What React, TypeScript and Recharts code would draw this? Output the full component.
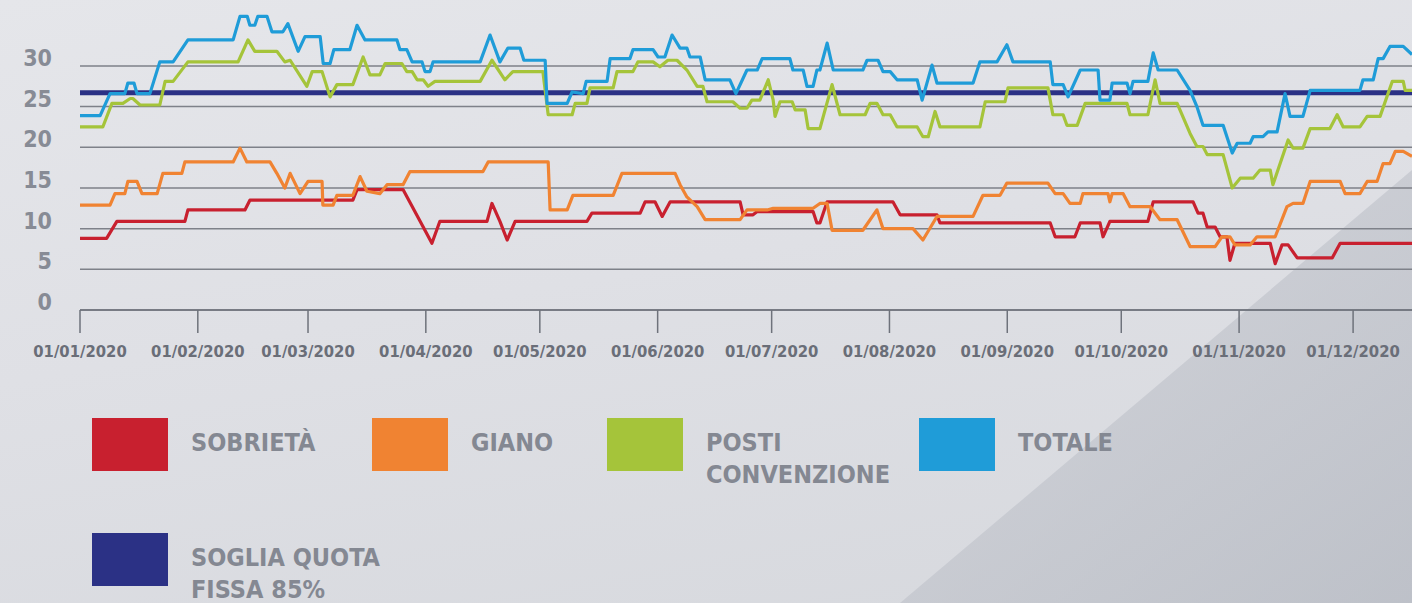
import { LineChart, Line, XAxis, YAxis, CartesianGrid } from "recharts";

// giorno dell'anno (0 = 01/01/2020) e valore
const SOBRIETA: [number, number][] = [
  [0, 8.8], [7, 8.8], [9.7, 10.9], [27.6, 10.9], [28.4, 12.3], [43.4, 12.3], [44.7, 13.5], [71.8, 13.5],
  [72.9, 14.8], [85, 14.8], [89.5, 10.9], [92.6, 8.2], [94.7, 10.9], [107.1, 10.9], [108.4, 13.1], [110.5, 10.9],
  [112.4, 8.6], [114.5, 10.9], [133.4, 10.9], [134.7, 11.9], [147.4, 11.9], [148.7, 13.3], [151.3, 13.3],
  [153.2, 11.5], [155.3, 13.3], [173.7, 13.3], [174.5, 11.7], [177.1, 11.7], [178.2, 12.1], [192.9, 12.1],
  [193.9, 10.7], [194.7, 10.7], [196.6, 13.3], [213.9, 13.3], [215.8, 11.7], [225.5, 11.7], [226.3, 10.7],
  [255.3, 10.7], [256.6, 9], [261.8, 9], [263.2, 10.7], [268.4, 10.7], [269.2, 9], [271, 10.9], [281, 10.9],
  [282.4, 13.3], [292.9, 13.3], [294.2, 11.9], [295.5, 11.9], [296.6, 10.2], [298.7, 10.2], [300, 9], [301.8, 9],
  [302.6, 6.1], [303.9, 8.2], [313.2, 8.2], [314.5, 5.7], [316.3, 8], [317.9, 8], [320.3, 6.4], [329.5, 6.4],
  [331.6, 8.2], [350.5, 8.2],
];

const GIANO: [number, number][] = [
  [0, 12.9], [7.9, 12.9], [9.2, 14.3], [11.8, 14.3], [12.6, 15.8], [15, 15.8], [16.3, 14.3], [20.3, 14.3],
  [21.8, 16.8], [26.8, 16.8], [27.6, 18.2], [40.3, 18.2], [42.1, 19.9], [43.9, 18.2], [50, 18.2], [51.8, 16.8],
  [53.9, 15], [55.3, 16.8], [57.9, 14.3], [60, 15.8], [63.7, 15.8], [63.9, 12.9], [66.6, 12.9], [67.6, 14.1],
  [71.8, 14.1], [73.7, 16.4], [75.5, 14.6], [78.9, 14.3], [80.8, 15.4], [85, 15.4], [86.8, 17], [106, 17],
  [107.4, 18.2], [123.2, 18.2], [123.7, 12.3], [128.2, 12.3], [129.7, 14.1], [140.3, 14.1], [142.6, 16.8],
  [156.6, 16.8], [157.9, 15.4], [159.7, 13.9], [162.4, 12.7], [164.5, 11.1], [173.7, 11.1], [175.5, 12.3],
  [180.8, 12.3], [182.4, 12.5], [192.9, 12.5], [194.7, 13.1], [196.6, 13.1], [197.9, 9.8], [206, 9.8],
  [209.7, 12.3], [211.3, 10], [219.2, 10], [221.8, 8.6], [225.5, 11.5], [235, 11.5], [237.6, 14.1], [242.1, 14.1],
  [243.9, 15.6], [254.7, 15.6], [256.6, 14.3], [258.7, 14.3], [260.5, 13.1], [263.2, 13.1], [263.9, 14.3],
  [270.5, 14.3], [271, 13.3], [271.6, 14.3], [274.5, 14.3], [276.3, 12.7], [281.6, 12.7], [284.2, 11.1],
  [288.7, 11.1], [292.1, 7.8], [298.7, 7.8], [300.5, 9], [302.6, 9], [303.9, 8], [307.9, 8], [309.7, 9],
  [314.5, 9], [317.6, 12.7], [319.2, 13.1], [321.8, 13.1], [323.7, 15.8], [331.6, 15.8], [332.9, 14.3],
  [336.8, 14.3], [338.7, 15.8], [341.3, 15.8], [342.9, 18], [344.7, 18], [346.1, 19.5], [348.2, 19.5],
  [350.5, 18.9],
];

const POSTI_CONVENZIONE: [number, number][] = [
  [0, 22.5], [6, 22.5], [8.4, 25.4], [11.3, 25.4], [13.2, 26], [13.9, 26], [15.8, 25.2], [21, 25.2],
  [22.4, 28.1], [24.5, 28.1], [28.4, 30.5], [41.6, 30.5], [44.2, 33.2], [46, 31.8], [51.8, 31.8], [53.9, 30.5],
  [55.3, 30.7], [59.7, 27.5], [61.1, 29.3], [63.7, 29.3], [65.8, 26.2], [67.6, 27.7], [71.8, 27.7], [74.5, 31.1],
  [76.3, 28.9], [78.9, 28.9], [80.3, 30.3], [84.7, 30.3], [86, 29.3], [87.4, 29.3], [88.7, 28.3], [90.3, 28.3],
  [91.6, 27.5], [93.4, 28.1], [105.3, 28.1], [108.4, 30.7], [111.8, 28.3], [113.9, 29.3], [121.8, 29.3],
  [123.2, 24], [129.5, 24], [130.3, 25.4], [133.4, 25.4], [134.2, 27.3], [140.3, 27.3], [141.3, 29.3],
  [145.5, 29.3], [146.8, 30.5], [150.8, 30.5], [152.6, 29.9], [154.7, 30.7], [157.1, 30.7], [159.7, 29.5],
  [162.4, 27.5], [163.9, 27.5], [165, 25.6], [171.8, 25.6], [173.7, 24.8], [175.5, 24.8], [176.8, 25.8],
  [178.9, 25.8], [181.1, 28.3], [182.4, 25.8], [182.9, 23.8], [184.2, 25.6], [187.4, 25.6], [188.2, 24.6],
  [190.8, 24.6], [191.6, 22.3], [194.7, 22.3], [197.9, 27.7], [200, 24], [206.6, 24], [207.9, 25.4],
  [209.7, 25.4], [211.3, 24], [213.2, 24], [215, 22.5], [220.3, 22.5], [221.8, 21.3], [223.2, 21.3],
  [225, 24.4], [226.3, 22.5], [236.8, 22.5], [238.2, 25.6], [243.4, 25.6], [244.2, 27.3], [254.7, 27.3],
  [256, 24], [258.7, 24], [259.7, 22.7], [262.4, 22.7], [264.5, 25.4], [275.5, 25.4], [276.3, 24], [281, 24],
  [282.9, 28.3], [284.2, 25.4], [288.7, 25.4], [292.1, 21.7], [293.9, 20.1], [295.5, 20.1], [296.6, 19.1],
  [300.8, 19.1], [303.2, 15], [305.3, 16.2], [308.7, 16.2], [310.5, 17.2], [313.2, 17.2], [313.9, 15.4],
  [317.9, 20.9], [319.2, 19.9], [321.8, 19.9], [323.7, 22.3], [328.9, 22.3], [330.8, 24], [332.4, 22.5],
  [336.8, 22.5], [338.7, 23.8], [342.1, 23.8], [345.3, 28.1], [348.2, 28.1], [348.7, 27], [350.5, 27],
];

const TOTALE: [number, number][] = [
  [0, 23.9], [5.3, 23.9], [7.9, 26.6], [11.8, 26.6], [12.6, 27.9], [14.2, 27.9], [15, 26.6], [18.4, 26.6],
  [21, 30.5], [24.5, 30.5], [28.4, 33.2], [40.3, 33.2], [42.1, 36.1], [44, 36.1], [44.7, 35], [46, 35],
  [46.8, 36.1], [49.2, 36.1], [50.5, 34.2], [53.4, 34.2], [54.7, 35.2], [57.4, 31.8], [59.2, 33.6], [63.2, 33.6],
  [64, 30.3], [65.8, 30.3], [66.8, 32], [71, 32], [72.9, 35], [75, 33.2], [83.4, 33.2], [84.2, 32], [86, 32],
  [87.4, 30.5], [90, 30.5], [90.8, 29.3], [92.1, 29.3], [92.9, 30.5], [105.3, 30.5], [107.9, 33.8],
  [110.5, 30.5], [112.6, 32.2], [115.8, 32.2], [116.8, 30.7], [122.4, 30.7], [122.9, 25.4], [128.2, 25.4],
  [129.5, 26.8], [132.4, 26.6], [133.2, 28.1], [138.7, 28.1], [139.5, 30.9], [144.7, 30.9], [145.5, 32],
  [150.8, 32], [152.1, 31.1], [153.9, 31.1], [155.8, 33.8], [157.9, 32.2], [159.7, 32.2], [160.5, 31.1],
  [163.2, 31.1], [164.5, 28.3], [171, 28.3], [172.6, 26.6], [175.5, 29.5], [178.2, 29.5], [179.5, 30.9],
  [186.8, 30.9], [187.6, 29.5], [190.3, 29.5], [191.3, 27.5], [192.9, 27.5], [193.9, 29.5], [194.7, 29.5],
  [196.6, 32.8], [198.2, 29.5], [206, 29.5], [207.1, 30.7], [210, 30.7], [211.3, 29.3], [213.2, 29.3],
  [215, 28.3], [220.3, 28.3], [221.6, 25.8], [224.2, 30.1], [225.5, 27.9], [235, 27.9], [236.8, 30.5],
  [241.3, 30.5], [243.9, 32.6], [245.5, 30.5], [255.3, 30.5], [256, 27.7], [258.7, 27.7], [260, 26.2],
  [263.2, 29.5], [267.9, 29.5], [268.4, 25.8], [271, 25.8], [271.6, 27.9], [275.5, 27.9], [276.3, 26.6],
  [277.1, 28.1], [281, 28.1], [282.4, 31.6], [283.7, 29.5], [288.7, 29.5], [292.1, 27], [293.9, 25],
  [295.5, 22.7], [300.8, 22.7], [303.2, 19.3], [304.5, 20.5], [307.9, 20.5], [308.7, 21.3], [311.3, 21.3],
  [312.6, 21.9], [315, 21.9], [317.1, 26.6], [318.4, 23.8], [321.8, 23.8], [323.7, 27], [336.8, 27],
  [337.6, 28.3], [340.3, 28.3], [341.6, 30.9], [342.9, 30.9], [344.7, 32.4], [348.2, 32.4], [350.5, 31.4],
];

const SOGLIA: [number, number][] = [[0, 26.7], [350.5, 26.7]];

const MESI_GIORNI = [0, 31, 60, 91, 121, 152, 182, 213, 244, 274, 305, 335];
const MESI_ETICHETTE = [
  "01/01/2020", "01/02/2020", "01/03/2020", "01/04/2020", "01/05/2020", "01/06/2020",
  "01/07/2020", "01/08/2020", "01/09/2020", "01/10/2020", "01/11/2020", "01/12/2020",
];
const Y_TICKS = [0, 5, 10, 15, 20, 25, 30];

const FONT = "'DejaVu Sans Condensed', 'DejaVu Sans', sans-serif";

const toPoints = (arr: [number, number][]) => arr.map(([d, v]) => ({ d, v }));

const serie = [
  { nome: "SOGLIA QUOTA FISSA 85%", dati: SOGLIA, colore: "#2b3185", spessore: 5 },
  { nome: "SOBRIETÀ", dati: SOBRIETA, colore: "#c8202f", spessore: 3.2 },
  { nome: "GIANO", dati: GIANO, colore: "#f08332", spessore: 3.2 },
  { nome: "POSTI CONVENZIONE", dati: POSTI_CONVENZIONE, colore: "#a5c43a", spessore: 3.2 },
  { nome: "TOTALE", dati: TOTALE, colore: "#1f9cd8", spessore: 3.2 },
];

const legenda = [
  { righe: ["SOBRIETÀ"], colore: "#c8202f", left: 92, top: 418 },
  { righe: ["GIANO"], colore: "#f08332", left: 372, top: 418 },
  { righe: ["POSTI", "CONVENZIONE"], colore: "#a5c43a", left: 607, top: 418 },
  { righe: ["TOTALE"], colore: "#1f9cd8", left: 919, top: 418 },
  { righe: ["SOGLIA QUOTA", "FISSA 85%"], colore: "#2b3185", left: 92, top: 533 },
];

const YTick = ({ x, y, payload }: any) => (
  <text x={x} y={y} textAnchor="end" fill="#878b95" fontFamily={FONT} fontWeight="bold" fontSize={23}>
    {payload.value}
  </text>
);

const XTick = ({ x, y, payload }: any) => {
  const i = MESI_GIORNI.indexOf(payload.value);
  return (
    <text x={x} y={y} dy={24} textAnchor="middle" fill="#6a6e78" fontFamily={FONT} fontWeight="bold" fontSize={16.5}>
      {MESI_ETICHETTE[i]}
    </text>
  );
};

export default function App() {
  return (
    <div
      style={{
        position: "absolute",
        left: 0,
        top: 0,
        width: 1412,
        height: 603,
        overflow: "hidden",
        background: "linear-gradient(170deg, #e5e6ea 0%, #dfe0e5 45%, #d6d8dd 100%)",
      }}
    >
      <svg width={1412} height={603} style={{ position: "absolute", left: 0, top: 0 }}>
        <defs>
          <linearGradient id="ombra" x1="0" y1="0" x2="1" y2="1">
            <stop offset="0%" stopColor="#d0d2d8" />
            <stop offset="100%" stopColor="#b3b7c0" />
          </linearGradient>
        </defs>
        <polygon points="900,603 1412,170 1412,603" fill="url(#ombra)" opacity={0.7} />
      </svg>

      <div style={{ position: "absolute", left: 0, top: 0 }}>
        <LineChart width={1412} height={360} margin={{ top: 9, right: 0, bottom: 0, left: 0 }}>
          <CartesianGrid
            horizontal
            vertical={false}
            horizontalValues={Y_TICKS}
            stroke="#7e8189"
            strokeWidth={1.5}
          />
          <XAxis
            type="number"
            dataKey="d"
            domain={[0, 350.5]}
            ticks={MESI_GIORNI}
            allowDataOverflow
            height={50}
            tickSize={23}
            tickMargin={0}
            axisLine={{ stroke: "#6e727b", strokeWidth: 1.5 }}
            tickLine={{ stroke: "#6e727b", strokeWidth: 1.5 }}
            tick={<XTick />}
          />
          <YAxis
            type="number"
            domain={[0, 37]}
            ticks={Y_TICKS}
            allowDataOverflow
            width={80}
            axisLine={false}
            tickLine={false}
            tickSize={0}
            tickMargin={28}
            tick={<YTick />}
          />
          {serie.map((s) => (
            <Line
              key={s.nome}
              data={toPoints(s.dati)}
              dataKey="v"
              name={s.nome}
              type="linear"
              stroke={s.colore}
              strokeWidth={s.spessore}
              strokeLinejoin="round"
              dot={false}
              activeDot={false}
              isAnimationActive={false}
            />
          ))}
        </LineChart>
      </div>

      {legenda.map((l) => (
        <div key={l.righe.join(" ")} style={{ position: "absolute", left: l.left, top: l.top }}>
          <div style={{ position: "absolute", left: 0, top: 0, width: 76, height: 53, background: l.colore }} />
          <div
            style={{
              position: "absolute",
              left: 99,
              top: 9,
              fontFamily: FONT,
              fontWeight: "bold",
              fontSize: 25,
              lineHeight: "32px",
              color: "#848892",
              whiteSpace: "nowrap",
            }}
          >
            {l.righe.map((r) => (
              <div key={r}>{r}</div>
            ))}
          </div>
        </div>
      ))}
    </div>
  );
}
